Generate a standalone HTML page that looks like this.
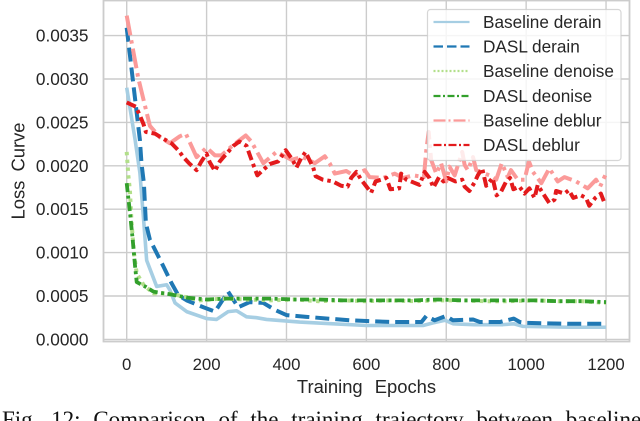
<!DOCTYPE html>
<html>
<head>
<meta charset="utf-8">
<style>
html,body{margin:0;padding:0;background:#fff;}
#chart-frame{position:relative;width:640px;height:421px;overflow:hidden;background:#fff;}
svg{display:block;}
text{font-family:"Liberation Sans",sans-serif;fill:#262626;}
</style>
</head>
<body>
<div id="chart-frame">
<svg id="chart" width="640" height="421" viewBox="0 0 640 421" xmlns="http://www.w3.org/2000/svg">
  <g id="grid"></g>
  <g id="spines"></g>
  <g id="series"></g>
  <g id="ticks"></g>
  <text x="366.5" y="393" text-anchor="middle" font-size="18.4" word-spacing="7">Training Epochs</text>
  <text transform="translate(24.5,171) rotate(-90)" text-anchor="middle" font-size="18.4" word-spacing="4">Loss Curve</text>
  <g id="legend">
    <rect x="427.5" y="9.5" width="193.5" height="151" rx="3" ry="3" fill="#fff" fill-opacity="0.8" stroke="#cccccc" stroke-opacity="0.8" stroke-width="1.2"></rect>
    <line x1="433.5" y1="22" x2="469.5" y2="22" stroke="#a6cee3" stroke-width="2.2"></line>
    <text x="483" y="28" font-size="17.2">Baseline derain</text>
    <line x1="433.5" y1="46.5" x2="469.5" y2="46.5" stroke="#1f78b4" stroke-width="2.2" stroke-dasharray="9.5 4"></line>
    <text x="483" y="52.5" font-size="17.2">DASL derain</text>
    <line x1="433.5" y1="71" x2="469.5" y2="71" stroke="#b2df8a" stroke-width="2.2" stroke-dasharray="2 2"></line>
    <text x="483" y="77" font-size="17.2">Baseline denoise</text>
    <line x1="433.5" y1="96" x2="469.5" y2="96" stroke="#33a02c" stroke-width="2.2" stroke-dasharray="7 2.5 2 2.5"></line>
    <text x="483" y="102" font-size="17.2">DASL deonise</text>
    <line x1="433.5" y1="120.5" x2="469.5" y2="120.5" stroke="#fb9a99" stroke-width="2.2" stroke-dasharray="12 3 2 3"></line>
    <text x="483" y="126.5" font-size="17.2">Baseline deblur</text>
    <line x1="433.5" y1="145" x2="469.5" y2="145" stroke="#e31a1c" stroke-width="2.2" stroke-dasharray="8 2.5 2 2.5"></line>
    <text x="483" y="151" font-size="17.2">DASL deblur</text>
  </g>
  <text x="2" y="427" font-size="23" word-spacing="7" style="font-family:'Liberation Serif',serif;fill:#111">Fig. 12: Comparison of the training trajectory between baseline</text>
</svg>
</div>
<script>
const xTickValues = [0, 200, 400, 600, 800, 1000, 1200];
const xTickLabels = ["0", "200", "400", "600", "800", "1000", "1200"];
const yTickValues = [0, 0.0005, 0.001, 0.0015, 0.002, 0.0025, 0.003, 0.0035];
const yTickLabels = ["0.0000", "0.0005", "0.0010", "0.0015", "0.0020", "0.0025", "0.0030", "0.0035"];

const baselineDerainEpochs = [0,21,33,43,50,75,100,108,121,150,200,225,254,275,300,325,350,433,517,600,742,767,797,817,870,942,969,992,1109,1200];
const baselineDerainValues = [0.0029,0.0023,0.00192,0.00134,0.00091,0.00061,0.00063,0.00057,0.00042,0.00032,0.00024,0.00023,0.00032,0.00033,0.00026,0.00025,0.00023,0.0002,0.00018,0.00016,0.00016,0.00019,0.00022,0.00018,0.00017,0.00017,0.00018,0.00015,0.00014,0.00014];

const daslDerainEpochs = [0,33,37,43,48,58,92,112,129,150,192,221,254,279,308,342,371,400,450,503,558,608,666,738,750,771,799,817,867,884,934,969,984,1000,1109,1199];
const daslDerainValues = [0.00359,0.0023,0.00203,0.0018,0.00134,0.00115,0.00084,0.00065,0.00051,0.00045,0.00037,0.00032,0.00055,0.00037,0.00043,0.00042,0.00034,0.00028,0.00026,0.00024,0.00022,0.00021,0.0002,0.0002,0.00027,0.00022,0.00027,0.00022,0.00023,0.0002,0.0002,0.00024,0.0002,0.00019,0.00018,0.00018];

const baselineDenoiseEpochs = [0,4,8,12,18,25,42,67,108,183,240,300,360,420,480,540,600,660,720,780,840,900,960,1020,1080,1140,1200];
const baselineDenoiseValues = [0.00216,0.00189,0.00172,0.00136,0.001,0.00076,0.00063,0.00053,0.00053,0.00045,0.00047,0.00046,0.00045,0.00046,0.00044,0.00045,0.00044,0.00045,0.00044,0.00045,0.00045,0.00044,0.00044,0.00045,0.00044,0.00044,0.00042];

const daslDeonisEpochs = [0,4,8,15,21,25,46,67,108,153,200,250,300,360,420,480,540,600,660,720,780,840,900,960,1020,1080,1140,1200];
const daslDeonisValues = [0.0018,0.00163,0.00147,0.00115,0.00084,0.00066,0.00061,0.00055,0.00052,0.00048,0.00046,0.00047,0.00047,0.00047,0.00046,0.00046,0.00045,0.00045,0.00045,0.00045,0.00046,0.00045,0.00045,0.00045,0.00045,0.00044,0.00044,0.00043];

const baselineDeblurEpochs = [0,29,58,83,108,133,148,175,200,221,237,267,298,312,342,375,412,441,471,496,508,521,550,567,596,608,642,671,692,717,744,750,756,762,775,787,800,808,821,840,846,854,867,875,908,925,939,954,962,979,996,1007,1017,1038,1058,1079,1096,1125,1154,1175,1185,1198];
const baselineDeblurValues = [0.00373,0.00301,0.00246,0.00233,0.00226,0.00234,0.00237,0.0021,0.00221,0.00212,0.00212,0.00224,0.00235,0.00228,0.00203,0.00216,0.00207,0.0021,0.00203,0.00211,0.00203,0.00191,0.00194,0.00189,0.00195,0.00187,0.00186,0.00191,0.00186,0.00189,0.00187,0.00218,0.00239,0.00207,0.00191,0.00203,0.00182,0.00199,0.00189,0.00216,0.00201,0.00195,0.0021,0.00195,0.00189,0.00184,0.00203,0.00187,0.00195,0.00184,0.00184,0.00205,0.00193,0.0018,0.00197,0.00182,0.00187,0.00182,0.00174,0.00184,0.00176,0.00189];

const daslDeblurEpochs = [0,23,33,42,48,71,92,112,129,142,156,175,187,200,208,221,233,250,267,282,300,310,318,327,346,358,379,398,415,425,437,448,457,467,473,491,516,537,553,562,575,587,602,612,623,637,650,660,682,687,700,717,733,746,758,768,782,793,804,823,840,846,858,871,879,890,900,916,921,926,937,950,960,968,983,996,1008,1021,1029,1041,1058,1071,1075,1096,1107,1118,1137,1150,1158,1173,1187,1198];
const daslDeblurValues = [0.00273,0.00268,0.00258,0.00248,0.00239,0.00237,0.00231,0.00226,0.00218,0.0021,0.00203,0.00195,0.00205,0.00214,0.00204,0.00194,0.00205,0.00214,0.00223,0.00228,0.00223,0.0021,0.002,0.00189,0.00197,0.00202,0.00205,0.00218,0.00207,0.00198,0.00209,0.00216,0.00207,0.00198,0.00188,0.00184,0.00182,0.00177,0.00176,0.00186,0.00193,0.00184,0.00175,0.00169,0.00182,0.00184,0.00186,0.00173,0.00174,0.00191,0.00184,0.00181,0.00178,0.00193,0.00186,0.00175,0.00187,0.00182,0.00186,0.00182,0.00184,0.00176,0.00171,0.00181,0.00189,0.00197,0.00177,0.00186,0.00176,0.00166,0.0017,0.00182,0.00186,0.00173,0.00176,0.00168,0.00174,0.00163,0.00178,0.00169,0.00157,0.00161,0.00171,0.00168,0.00172,0.00163,0.00166,0.00163,0.00154,0.00163,0.00168,0.00155];

const NS = 'http://www.w3.org/2000/svg';
function xScale(epoch) { return 126.7 + epoch * 0.39945; }
function yScale(value) { return 339.4 - value * 86800; }

const gridGroup = document.getElementById('grid');
const tickGroup = document.getElementById('ticks');
const spineGroup = document.getElementById('spines');
const seriesGroup = document.getElementById('series');

xTickValues.forEach(function (tick, i) {
  const line = document.createElementNS(NS, 'line');
  
  
  line.setAttribute('x1', xScale(tick));
  line.setAttribute('x2', xScale(tick));
  line.setAttribute('y1', 0);
  line.setAttribute('y2', 341);
  line.setAttribute('stroke', '#cccccc');
  line.setAttribute('stroke-width', '1.4');
  gridGroup.appendChild(line);
  const label = document.createElementNS(NS, 'text');
  
  
  label.setAttribute('x', xScale(tick));
  label.setAttribute('y', 370);
  label.setAttribute('text-anchor', 'middle');
  label.setAttribute('font-size', '16.8');
  label.textContent = xTickLabels[i];
  tickGroup.appendChild(label);
});

yTickValues.forEach(function (tick, i) {
  const line = document.createElementNS(NS, 'line');
  
  
  line.setAttribute('x1', 103);
  line.setAttribute('x2', 630);
  line.setAttribute('y1', yScale(tick));
  line.setAttribute('y2', yScale(tick));
  line.setAttribute('stroke', '#cccccc');
  line.setAttribute('stroke-width', '1.4');
  gridGroup.appendChild(line);
  const label = document.createElementNS(NS, 'text');
  
  
  label.setAttribute('x', 88.5);
  label.setAttribute('y', yScale(tick) + 6);
  label.setAttribute('text-anchor', 'end');
  label.setAttribute('font-size', '17.2');
  label.textContent = yTickLabels[i];
  tickGroup.appendChild(label);
});

const frame = document.createElementNS(NS, 'rect');


frame.setAttribute('x', 103.5);
frame.setAttribute('y', 0.5);
frame.setAttribute('width', 526);
frame.setAttribute('height', 341);
frame.setAttribute('fill', 'none');
frame.setAttribute('stroke', '#cccccc');
frame.setAttribute('stroke-width', '1.8');
spineGroup.appendChild(frame);

function drawSeries(name, epochs, values, color, width, dash) {
  const line = document.createElementNS(NS, 'polyline');
  
  
  const pts = epochs.map(function (e, i) { return xScale(e).toFixed(2) + ',' + yScale(values[i]).toFixed(2); });
  line.setAttribute('points', pts.join(' '));
  line.setAttribute('fill', 'none');
  line.setAttribute('stroke', color);
  line.setAttribute('stroke-width', width);
  line.setAttribute('stroke-linejoin', 'round');
  if (dash) line.setAttribute('stroke-dasharray', dash);
  seriesGroup.appendChild(line);
}

drawSeries('baseline-derain-line', baselineDerainEpochs, baselineDerainValues, '#a6cee3', 3.6, '');
drawSeries('dasl-derain-line', daslDerainEpochs, daslDerainValues, '#1f78b4', 4, '14 6');
drawSeries('baseline-denoise-line', baselineDenoiseEpochs, baselineDenoiseValues, '#b2df8a', 4, '3.4 4.4');
drawSeries('dasl-deonise-line', daslDeonisEpochs, daslDeonisValues, '#33a02c', 3.8, '9 3.5 3 3.5');
drawSeries('baseline-deblur-line', baselineDeblurEpochs, baselineDeblurValues, '#fb9a99', 4, '20 5 3.5 5');
drawSeries('dasl-deblur-line', daslDeblurEpochs, daslDeblurValues, '#e31a1c', 4, '10 4 3.5 4');
</script>
</body>
</html>
